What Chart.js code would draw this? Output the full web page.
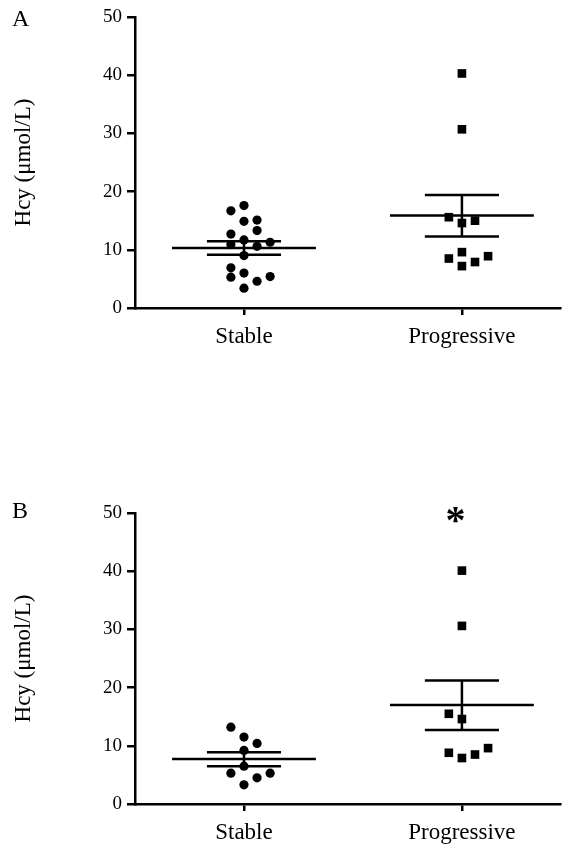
<!DOCTYPE html>
<html>
<head>
<meta charset="utf-8">
<script src="https://cdn.jsdelivr.net/npm/chart.js@4.4.0/dist/chart.umd.min.js"></script>
<style>
  body { margin: 0; background: #fff; }
  #wrap { position: relative; width: 567px; height: 847px; background: #fff; }
  canvas { position: absolute; left: 0; }
</style>
</head>
<body>
<div id="wrap">
  <canvas id="chartA" width="567" height="357" style="top:0px"></canvas>
  <canvas id="chartB" width="567" height="357" style="top:490px"></canvas>
</div>
<script>
// groups on the x axis
const groups = ['Stable', 'Progressive'];
const groupPos = [1, 2];

// panel A - individual values and their horizontal spread
const stableA = [17.6, 16.7, 14.9, 15.1, 13.3, 12.7, 11.7, 10.9, 11.3, 10.6, 9.0, 6.9, 5.3, 6.0, 5.4, 4.6, 3.4];
const stableAx = [1, 0.94, 1, 1.06, 1.06, 0.94, 1, 0.94, 1.12, 1.06, 1, 0.94, 0.94, 1, 1.12, 1.06, 1];
const progA = [40.3, 30.7, 15.6, 14.6, 15.0, 9.6, 8.5, 8.9, 7.9, 7.2];
const progAx = [2, 2, 1.94, 2, 2.06, 2, 1.94, 2.12, 2.06, 2];
const meanA = [10.3, 15.9];
const semHiA = [11.45, 19.4];
const semLoA = [9.15, 12.3];

// panel B
const stableB = [13.2, 11.5, 10.4, 9.2, 6.5, 5.3, 4.5, 5.3, 3.3];
const stableBx = [0.94, 1, 1.06, 1, 1, 0.94, 1.06, 1.12, 1];
const progB = [40.1, 30.6, 15.5, 14.6, 8.8, 7.9, 8.5, 9.6];
const progBx = [2, 2, 1.94, 2, 1.94, 2, 2.06, 2.12];
const meanB = [7.75, 17.0];
const semHiB = [8.9, 21.2];
const semLoB = [6.5, 12.7];

const yTicks = [0, 10, 20, 30, 40, 50];

const FONT = "'Liberation Serif', 'Times New Roman', serif";

function pts(xs, ys) {
  return ys.map((v, i) => ({ x: xs[i], y: v }));
}

function seg(x1, y1, x2, y2) {
  return {
    type: 'line',
    data: [{ x: x1, y: y1 }, { x: x2, y: y2 }],
    borderColor: '#000',
    borderWidth: 2.5,
    pointRadius: 0,
    fill: false,
    tension: 0
  };
}

function buildDatasets(sX, sY, pX, pY, mean, hi, lo) {
  let ds = [
    { type: 'scatter', data: pts(sX, sY), pointStyle: 'circle', pointRadius: 4.6,
      backgroundColor: '#000', borderColor: '#000', borderWidth: 0 },
    { type: 'scatter', data: pts(pX, pY), pointStyle: 'rect', pointRadius: 6.1,
      backgroundColor: '#000', borderColor: '#000', borderWidth: 0 }
  ];
  groupPos.forEach((g, i) => {
    ds.push(seg(g - 0.33, mean[i], g + 0.33, mean[i]));
    ds.push(seg(g - 0.17, hi[i], g + 0.17, hi[i]));
    ds.push(seg(g - 0.17, lo[i], g + 0.17, lo[i]));
    ds.push(seg(g, lo[i], g, hi[i]));
  });
  return ds;
}

const panelLabel = {
  id: 'panelLabel',
  afterDraw(chart, args, opts) {
    const ctx = chart.ctx;
    ctx.save();
    ctx.fillStyle = '#000';
    ctx.font = '24px ' + FONT;
    ctx.textAlign = 'left';
    ctx.textBaseline = 'alphabetic';
    ctx.fillText(opts.text, 12, opts.top);
    if (opts.star) {
      ctx.font = 'bold 40px ' + FONT;
      ctx.textAlign = 'center';
      ctx.fillText('*', chart.scales.x.getPixelForValue(opts.star[0]),
        chart.scales.y.getPixelForValue(opts.star[1]));
    }
    ctx.restore();
  }
};

function makeChart(id, datasets, padTop, letter, letterTop, star) {
  const ctx = document.getElementById(id).getContext('2d');
  return new Chart(ctx, {
    type: 'scatter',
    data: { datasets: datasets },
    plugins: [panelLabel],
    options: {
      responsive: false,
      animation: false,
      events: [],
      layout: { padding: { top: padTop, right: 7, left: 0, bottom: 0 } },
      plugins: {
        legend: { display: false },
        tooltip: { enabled: false },
        panelLabel: { text: letter, top: letterTop, star: star }
      },
      scales: {
        x: {
          type: 'linear',
          min: 0.5,
          max: 2.45,
          afterBuildTicks: s => { s.ticks = groupPos.map(v => ({ value: v })); },
          afterFit: s => { s.height = 357 - (padTop + 291); },
          ticks: {
            callback: v => groups[groupPos.indexOf(v)] || '',
            color: '#000',
            font: { family: FONT, size: 23 },
            padding: 8,
            maxRotation: 0,
            autoSkip: false
          },
          grid: { drawOnChartArea: false, drawTicks: true, tickLength: 7, color: '#000', lineWidth: 2.5 },
          border: { display: true, color: '#000', width: 2.5 }
        },
        y: {
          min: 0,
          max: 50,
          afterBuildTicks: s => { s.ticks = yTicks.map(v => ({ value: v })); },
          afterFit: s => { s.width = 135; },
          ticks: {
            color: '#000',
            font: { family: FONT, size: 19 },
            padding: 5
          },
          title: {
            display: true,
            text: 'Hcy (μmol/L)',
            color: '#000',
            font: { family: FONT, size: 23 },
            padding: { top: 10, bottom: 0 }
          },
          grid: { drawOnChartArea: false, drawTicks: true, tickLength: 8, color: '#000', lineWidth: 2.5 },
          border: { display: true, color: '#000', width: 2.5 }
        }
      }
    }
  });
}

makeChart('chartA', buildDatasets(stableAx, stableA, progAx, progA, meanA, semHiA, semLoA), 17, 'A', 26, null);
makeChart('chartB', buildDatasets(stableBx, stableB, progBx, progB, meanB, semHiB, semLoB), 23, 'B', 28, [1.97, 46.6]);
</script>
</body>
</html>
